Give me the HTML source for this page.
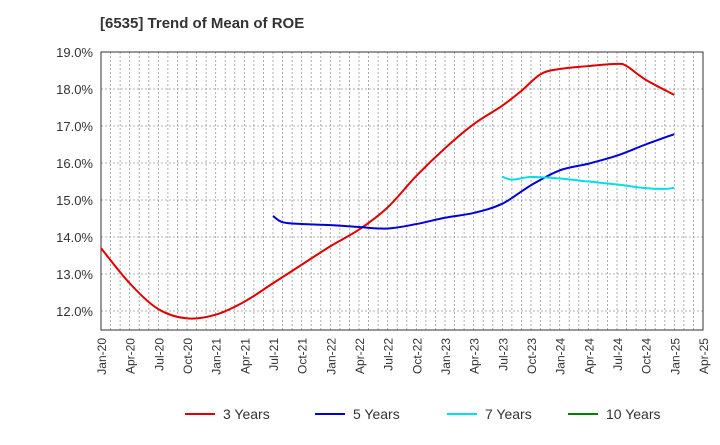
<!DOCTYPE html>
<html><head><meta charset="utf-8"><style>
body{margin:0;background:#fff;font-family:"Liberation Sans",sans-serif;}
svg text{font-family:"Liberation Sans",sans-serif;}
</style></head><body>
<svg id="chart" width="720" height="440">
<text x="100" y="28" font-size="15" font-weight="bold" fill="#333">[6535]  Trend of Mean of ROE</text>
<g id="grid"></g><g id="axes"></g><g id="series"></g><g id="legend"></g>
</svg>
<script>
const xLabels=["Jan-20","Apr-20","Jul-20","Oct-20","Jan-21","Apr-21","Jul-21","Oct-21","Jan-22","Apr-22","Jul-22","Oct-22","Jan-23","Apr-23","Jul-23","Oct-23","Jan-24","Apr-24","Jul-24","Oct-24","Jan-25","Apr-25"];
const yTicks=[12,13,14,15,16,17,18,19];
// month index from Jan-20
const m3=[0,3,6,9,12,15,18,21,24,27,30,33,36,39,42,44,46,48,51,54,55,57,60];
const v3=[13.7,12.75,12.05,11.8,11.9,12.25,12.75,13.25,13.75,14.2,14.8,15.65,16.4,17.05,17.55,17.95,18.4,18.54,18.62,18.68,18.62,18.25,17.84];
const m5=[18,19,21,24,27,30,33,36,39,42,45,48,51,54,57,60];
const v5=[14.57,14.4,14.35,14.32,14.27,14.23,14.35,14.52,14.65,14.9,15.4,15.8,15.98,16.2,16.5,16.78];
const m7=[42,43,45,48,51,54,57,59,60];
const v7=[15.63,15.55,15.62,15.58,15.5,15.42,15.32,15.3,15.33];
const m10=[];const v10=[];
const X0=101,X1=703,Y0=52,YB=330;
const xs=m=>X0+m*(X1-X0)/63;
const ys=v=>Y0+(19-v)*37;
const NS="http://www.w3.org/2000/svg";
function mk(t,a,p){const e=document.createElementNS(NS,t);for(const k in a)e.setAttribute(k,a[k]);p.appendChild(e);return e;}
const grid=document.getElementById('grid'),axes=document.getElementById('axes'),ser=document.getElementById('series'),leg=document.getElementById('legend');
for(let m=1;m<63;m++){const l=mk('line',{x1:xs(m),x2:xs(m),y1:Y0,y2:YB,stroke:'#999','stroke-dasharray':'2,2','stroke-width':0.8},grid);

}
yTicks.forEach(v=>{const l=mk('line',{x1:X0,x2:X1,y1:ys(v),y2:ys(v),stroke:'#999','stroke-dasharray':'2,2','stroke-width':0.8},grid);


const t=mk('text',{x:X0-8,y:ys(v)+5,'text-anchor':'end','font-size':13,fill:'#333'},axes);t.textContent=v.toFixed(1)+'%';

});
xLabels.forEach((s,i)=>{const x=xs(i*3);const t=mk('text',{transform:`translate(${x+5},${YB+8}) rotate(-90)`,'text-anchor':'end','font-size':12,fill:'#333'},axes);t.textContent=s;

});
const fr=mk('rect',{x:X0,y:Y0,width:X1-X0,height:YB-Y0,fill:'none',stroke:'#333','stroke-width':1},axes);


function path(ms,vs){const p=ms.map((m,i)=>[xs(m),ys(vs[i])]);if(!p.length)return'';let d=`M${p[0][0]},${p[0][1]}`;
for(let i=0;i<p.length-1;i++){const a=p[i-1]||p[i],b=p[i],c=p[i+1],e=p[i+2]||c;
d+=` C${b[0]+(c[0]-a[0])/6},${b[1]+(c[1]-a[1])/6} ${c[0]-(e[0]-b[0])/6},${c[1]-(e[1]-b[1])/6} ${c[0]},${c[1]}`;}return d;}
const S=[["3 Years",m3,v3,"#e00000",185],["5 Years",m5,v5,"#0000dd",315],["7 Years",m7,v7,"#00e0e8",447],["10 Years",m10,v10,"#008000",568]];
S.forEach(([n,m,v,c,lx])=>{if(m.length){const p=mk('path',{d:path(m,v),fill:'none',stroke:c,'stroke-width':2},ser);

}
const g=mk('g',{},leg);


mk('line',{x1:lx,x2:lx+30,y1:414,y2:414,stroke:c,'stroke-width':2},g);
const t=mk('text',{x:lx+38,y:419,'font-size':14,fill:'#333'},g);t.textContent=n;});
</script>
</body></html>
